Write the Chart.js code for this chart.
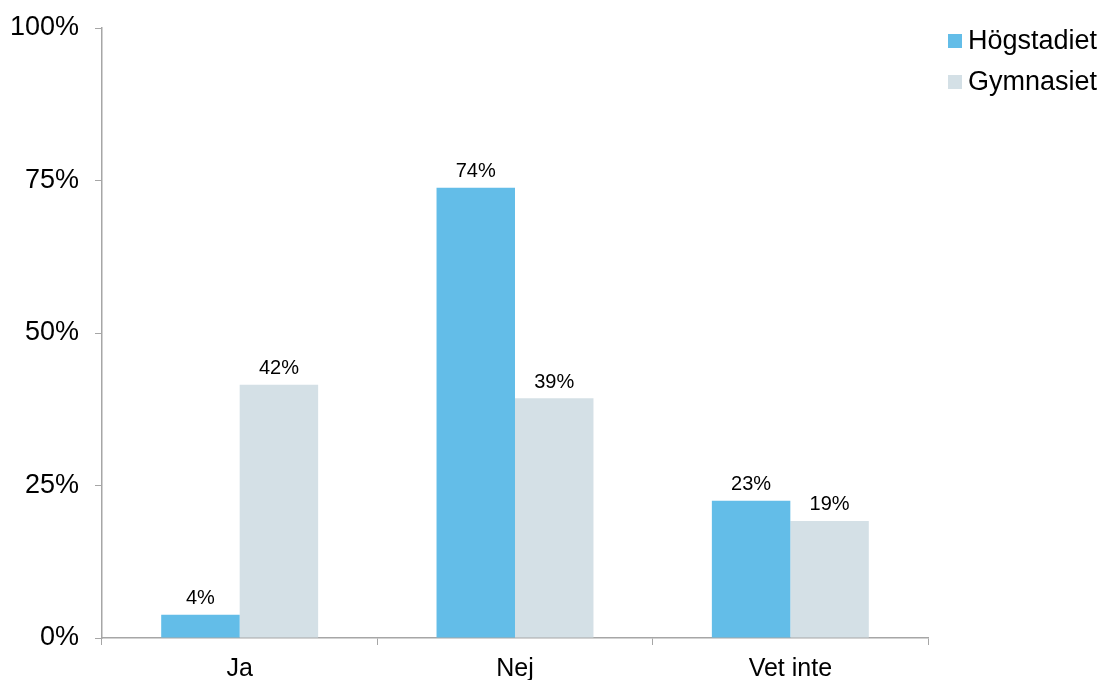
<!DOCTYPE html>
<html>
<head>
<meta charset="utf-8">
<script src="https://cdn.jsdelivr.net/npm/chart.js@4.4.1/dist/chart.umd.min.js"></script>
<style>
  html, body { margin: 0; padding: 0; background: #fff; }
  #wrap { width: 1104px; height: 680px; }
</style>
</head>
<body>
<div id="wrap"><canvas id="chart" width="1104" height="680"></canvas></div>
<script>
const categories = ['Ja', 'Nej', 'Vet inte'];
const seriesNames = ['Högstadiet', 'Gymnasiet'];
const hogstadiet = [3.8, 73.8, 22.5];
const gymnasiet = [41.5, 39.3, 19.2];
const hogLabels = ['4%', '74%', '23%'];
const gymLabels = ['42%', '39%', '19%'];
const yTicks = [0, 25, 50, 75, 100];

const colors = ['#63bde8', '#d4e0e6'];
const font = "'Liberation Sans', Arial, sans-serif";

// value labels above the bars
const barLabels = {
  id: 'barLabels',
  afterDatasetsDraw(chart) {
    const ctx = chart.ctx;
    const labels = [hogLabels, gymLabels];
    ctx.save();
    ctx.font = '20px ' + font;
    ctx.fillStyle = '#000';
    ctx.textAlign = 'center';
    ctx.textBaseline = 'bottom';
    chart.data.datasets.forEach((ds, i) => {
      chart.getDatasetMeta(i).data.forEach((bar, j) => {
        ctx.fillText(labels[i][j], bar.x, bar.y - 6);
      });
    });
    ctx.restore();
  }
};

// legend top right
const sideLegend = {
  id: 'sideLegend',
  afterDraw(chart) {
    const ctx = chart.ctx;
    ctx.save();
    ctx.font = '27px ' + font;
    ctx.textBaseline = 'middle';
    seriesNames.forEach((name, i) => {
      const y = 41 + i * 41;
      ctx.fillStyle = colors[i];
      ctx.fillRect(948, y - 7, 14, 14);
      ctx.fillStyle = '#000';
      ctx.fillText(name, 968, y + 1);
    });
    ctx.restore();
  }
};

new Chart(document.getElementById('chart'), {
  type: 'bar',
  data: {
    labels: categories,
    datasets: [
      { label: seriesNames[0], data: hogstadiet, backgroundColor: colors[0] },
      { label: seriesNames[1], data: gymnasiet, backgroundColor: colors[1] }
    ]
  },
  options: {
    responsive: false,
    animation: false,
    devicePixelRatio: 1,
    layout: { padding: { top: 28, right: 176, left: 0, bottom: 0 } },
    datasets: { bar: { barPercentage: 1.0, categoryPercentage: 0.57 } },
    plugins: { legend: { display: false }, tooltip: { enabled: false } },
    scales: {
      x: {
        afterFit: (s) => { s.height = 42; s.paddingLeft = 0; s.paddingRight = 0; },
        grid: { drawOnChartArea: false, offset: true, tickLength: 7, color: '#a6a6a6' },
        border: { color: '#a6a6a6', width: 1.5 },
        ticks: { color: '#000', font: { family: font, size: 25 }, padding: 9 }
      },
      y: {
        min: 0,
        max: 100,
        afterFit: (s) => { s.width = 102; s.paddingTop = 0; s.paddingBottom = 0; },
        afterBuildTicks: (s) => { s.ticks = yTicks.map(v => ({ value: v })); },
        grid: { drawOnChartArea: false, tickLength: 7, color: '#a6a6a6' },
        border: { color: '#a6a6a6', width: 1.5 },
        ticks: {
          color: '#000',
          font: { family: font, size: 27 },
          padding: 16,
          callback: (v) => v + '%'
        }
      }
    }
  },
  plugins: [barLabels, sideLegend]
});
</script>
</body>
</html>
